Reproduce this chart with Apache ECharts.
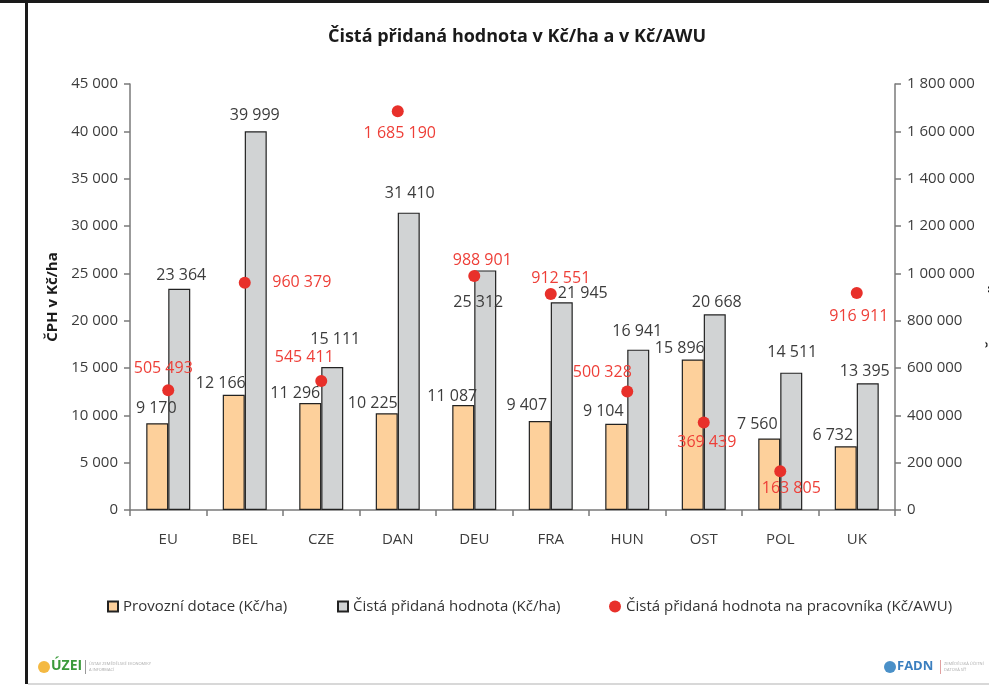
<!DOCTYPE html>
<html>
<head>
<meta charset="utf-8">
<script src="https://cdn.jsdelivr.net/npm/echarts@6/dist/echarts.min.js"></script>
<style>
html,body{margin:0;padding:0;background:#fff;}
#main{width:989px;height:686px;}
</style>
</head>
<body>
<div id="main"></div>
<script>
// ---- data ----
var categories = ['EU', 'BEL', 'CZE', 'DAN', 'DEU', 'FRA', 'HUN', 'OST', 'POL', 'UK'];
var provozniDotace = [9170, 12166, 11296, 10225, 11087, 9407, 9104, 15896, 7560, 6732];
var cistaPridanaHodnota = [23364, 39999, 15111, 31410, 25312, 21945, 16941, 20668, 14511, 13395];
var cphNaPracovnika = [505493, 960379, 545411, 1685190, 988901, 912551, 500328, 369439, 163805, 916911];
var leftTicks = [0, 45000, 5000];      // min, max, interval
var rightTicks = [0, 1800000, 200000]; // min, max, interval

// ---- label nudges (styling only) ----
var orangeLabelNudge = [[-1,-15],[-13,-11],[-15,-10],[-14,-10],[-11,-9],[-13,-16],[-13,-12],[-13,-11],[-12,-14],[-13,-11]];
var grayLabelNudge = [[2,-13],[-1,-16],[3,-28],[1,-19],[-7,32],[21,-9],[-1,-18],[2,-12],[1,-20],[-3,-12]];
var redLabelNudge = [[-5,-22],[57,0],[-17,-23],[2,22],[8,-16],[10,-16],[-25,-19],[3,20],[11,17],[2,23]];

var FONT = '"Open Sans", "Liberation Sans", sans-serif';
function fmt(v) { return String(v).replace(/\B(?=(\d{3})+(?!\d))/g, ' '); }

function withNudges(values, nudges) {
  return values.map(function (v, i) {
    return { value: v, label: { offset: nudges[i] } };
  });
}

var chart = echarts.init(document.getElementById('main'), null, { renderer: 'canvas' });

var barLabel = {
  show: true,
  position: ['50%', 0],
  align: 'center',
  verticalAlign: 'middle',
  color: '#3c3c3c',
  fontFamily: FONT,
  fontSize: 16,
  formatter: function (p) { return fmt(p.value); }
};

var legendText = { fontFamily: FONT, fontSize: 15, color: '#333' };

var option = {
  backgroundColor: '#ffffff',
  animation: false,
  textStyle: { fontFamily: FONT },
  title: {
    text: 'Čistá přidaná hodnota v Kč/ha a v Kč/AWU',
    left: 512, top: 23, textAlign: 'center',
    textStyle: { fontFamily: FONT, fontSize: 18, fontWeight: 'bold', color: '#1a1a1a' }
  },
  grid: { left: 130, right: 94, top: 84, bottom: 176, containLabel: false, outerBoundsMode: 'none' },
  legend: [
    {
      left: 102, top: 594, itemWidth: 10, itemHeight: 10,
      data: [{ name: 'Provozní dotace (Kč/ha)', icon: 'rect' }],
      textStyle: legendText
    },
    {
      left: 332, top: 594, itemWidth: 10, itemHeight: 10,
      data: [{ name: 'Čistá přidaná hodnota (Kč/ha)', icon: 'rect' }],
      textStyle: legendText
    },
    {
      left: 604, top: 594, itemWidth: 12, itemHeight: 12,
      data: [{ name: 'Čistá přidaná hodnota na pracovníka (Kč/AWU)', icon: 'circle' }],
      textStyle: legendText
    }
  ],
  xAxis: {
    type: 'category',
    data: categories,
    axisLine: { lineStyle: { color: '#7a7a7a', width: 1.5 } },
    axisTick: { show: true, alignWithLabel: false, length: 6, lineStyle: { color: '#7a7a7a', width: 1.5 } },
    axisLabel: { color: '#3c3c3c', fontFamily: FONT, fontSize: 15, margin: 22 }
  },
  yAxis: [
    {
      type: 'value',
      min: leftTicks[0], max: leftTicks[1], interval: leftTicks[2],
      name: 'ČPH v Kč/ha',
      nameLocation: 'middle', nameGap: 66, nameRotate: 90,
      nameTextStyle: { fontFamily: FONT, fontSize: 15, fontWeight: 'bold', color: '#1a1a1a' },
      axisLine: { show: true, lineStyle: { color: '#7a7a7a', width: 1.5 } },
      axisTick: { show: true, length: 6, lineStyle: { color: '#7a7a7a', width: 1.5 } },
      splitLine: { show: false },
      axisLabel: { color: '#3c3c3c', fontFamily: FONT, fontSize: 15, margin: 12, formatter: fmt }
    },
    {
      type: 'value',
      min: rightTicks[0], max: rightTicks[1], interval: rightTicks[2],
      position: 'right',
      name: 'ČPH v Kč/AWU',
      nameLocation: 'middle', nameGap: 92, nameRotate: 90,
      nameTextStyle: { fontFamily: FONT, fontSize: 15, fontWeight: 'bold', color: '#1a1a1a' },
      axisLine: { show: true, lineStyle: { color: '#7a7a7a', width: 1.5 } },
      axisTick: { show: true, length: 6, lineStyle: { color: '#7a7a7a', width: 1.5 } },
      splitLine: { show: false },
      axisLabel: { color: '#3c3c3c', fontFamily: FONT, fontSize: 15, margin: 12, formatter: fmt }
    }
  ],
  series: [
    {
      name: 'Provozní dotace (Kč/ha)',
      type: 'bar',
      yAxisIndex: 0,
      barWidth: 22,
      barGap: '0%',
      itemStyle: { color: '#fdd09b', borderColor: '#222', borderWidth: 1.2 },
      label: barLabel,
      data: withNudges(provozniDotace, orangeLabelNudge),
      z: 2
    },
    {
      name: 'Čistá přidaná hodnota (Kč/ha)',
      type: 'bar',
      yAxisIndex: 0,
      barWidth: 22,
      barGap: '0%',
      itemStyle: { color: '#d1d3d4', borderColor: '#222', borderWidth: 1.2 },
      label: barLabel,
      data: withNudges(cistaPridanaHodnota, grayLabelNudge),
      z: 2
    },
    {
      name: 'Čistá přidaná hodnota na pracovníka (Kč/AWU)',
      type: 'scatter',
      yAxisIndex: 1,
      symbol: 'circle',
      symbolSize: 12,
      itemStyle: { color: '#e8302a', opacity: 1 },
      label: {
        show: true,
        position: 'inside',
        color: '#ee3f38',
        fontFamily: FONT,
        fontSize: 16,
        formatter: function (p) { return fmt(p.value); }
      },
      data: withNudges(cphNaPracovnika, redLabelNudge),
      z: 5
    }
  ],
  graphic: [
    { type: 'rect', shape: { x: 0, y: 0, width: 989, height: 3 }, style: { fill: '#1a1a1a' }, silent: true },
    { type: 'rect', shape: { x: 25, y: 0, width: 3, height: 684 }, style: { fill: '#1a1a1a' }, silent: true },
    { type: 'rect', shape: { x: 28, y: 683, width: 961, height: 2 }, style: { fill: '#d8d8d8' }, silent: true },
    { type: 'circle', shape: { cx: 44, cy: 667, r: 6 }, style: { fill: '#f4b942' }, silent: true },
    { type: 'text', left: 51, top: 659, style: { text: 'ÚZEI', fill: '#3a9a3a', font: 'bold 14px ' + FONT }, silent: true },
    { type: 'rect', shape: { x: 85, y: 660, width: 1, height: 14 }, style: { fill: '#999' }, silent: true },
    { type: 'text', left: 89, top: 661, style: { text: 'ÚSTAV ZEMĚDĚLSKÉ EKONOMIKY\nA INFORMACÍ', fill: '#aaa', font: '4px ' + FONT, lineHeight: 6 }, silent: true },
    { type: 'circle', shape: { cx: 890, cy: 667, r: 6 }, style: { fill: '#4a90c8' }, silent: true },
    { type: 'text', left: 897, top: 660, style: { text: 'FADN', fill: '#3b7fbf', font: 'bold 13px ' + FONT }, silent: true },
    { type: 'rect', shape: { x: 940, y: 660, width: 1, height: 14 }, style: { fill: '#e0a0a0' }, silent: true },
    { type: 'text', left: 944, top: 661, style: { text: 'ZEMĚDĚLSKÁ ÚČETNÍ\nDATOVÁ SÍŤ', fill: '#aaa', font: '4px ' + FONT, lineHeight: 6 }, silent: true }
  ]
};

chart.setOption(option);
</script>
</body>
</html>
